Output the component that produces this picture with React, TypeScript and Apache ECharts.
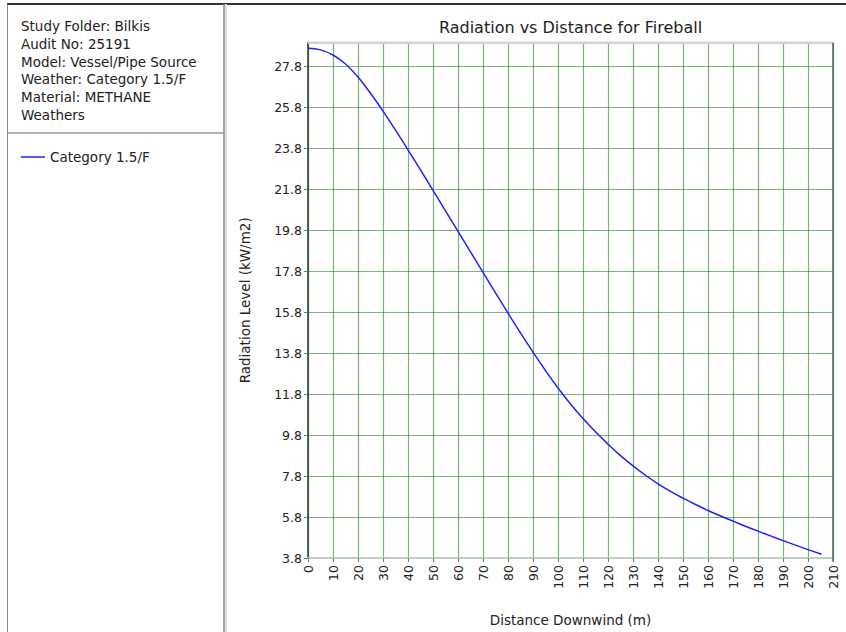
import React, { useEffect, useRef } from "react";
import * as echarts from "echarts";

const distances = [0, 5, 10, 15, 20, 25, 30, 35, 40, 45, 50, 55, 60, 65, 70, 75, 80, 85, 90, 95, 100, 105, 110, 115, 120, 125, 130, 135, 140, 145, 150, 155, 160, 165, 170, 175, 180, 185, 190, 195, 200, 205.4];
const radiation = [28.69, 28.61, 28.36, 27.92, 27.28, 26.49, 25.62, 24.69, 23.73, 22.75, 21.75, 20.75, 19.75, 18.75, 17.75, 16.75, 15.76, 14.79, 13.85, 12.95, 12.1, 11.32, 10.61, 9.96, 9.36, 8.8, 8.3, 7.84, 7.42, 7.05, 6.72, 6.41, 6.12, 5.85, 5.6, 5.35, 5.11, 4.88, 4.65, 4.43, 4.21, 3.98];
const infoLines = [
  "Study Folder: Bilkis",
  "Audit No: 25191",
  "Model: Vessel/Pipe Source",
  "Weather: Category 1.5/F",
  "Material: METHANE",
  "Weathers",
];
const seriesName = "Category 1.5/F";
const chartTitle = "Radiation vs Distance for Fireball";
const xName = "Distance Downwind (m)";
const yName = "Radiation Level (kW/m2)";

const FONT = "'DejaVu Sans', Verdana, sans-serif";

export default function App() {
  const ref = useRef<HTMLDivElement>(null);
  useEffect(() => {
    if (!ref.current) return;
    const chart = echarts.init(ref.current, undefined, { renderer: "svg" });
    const W = 846, H = 632;
    const gl = 308, gr = 833, gt = 42.7, gb = 561.7;
    const gridColor = "rgba(40,125,40,0.6)";
    const graphic: any[] = [
      { type: "rect", shape: { x: 0, y: 0, width: W, height: H }, style: { fill: "#fff" }, z: -10 },
      { type: "line", shape: { x1: 7, y1: 4, x2: W, y2: 4 }, style: { stroke: "#333", lineWidth: 2 } },
      { type: "line", shape: { x1: 7.5, y1: 4, x2: 7.5, y2: H }, style: { stroke: "#888", lineWidth: 1 } },
      { type: "line", shape: { x1: 224, y1: 4, x2: 224, y2: H }, style: { stroke: "#888", lineWidth: 1.5 } },
      { type: "line", shape: { x1: 226, y1: 4, x2: 226, y2: H }, style: { stroke: "#ddd", lineWidth: 2 } },
      { type: "line", shape: { x1: 7, y1: 133, x2: 224, y2: 133 }, style: { stroke: "#999", lineWidth: 1.5 } },
      { type: "line", shape: { x1: gl, y1: gt, x2: gr, y2: gt }, style: { stroke: "#d4d4d4", lineWidth: 2.5 }, z: 10 },
      { type: "line", shape: { x1: gr, y1: gt, x2: gr, y2: gb }, style: { stroke: "#556655", lineWidth: 1.5 }, z: 10 },
      {
        type: "text",
        x: 570.5,
        y: 27,
        style: { text: chartTitle, font: `16px ${FONT}`, fill: "#222", align: "center", verticalAlign: "middle" },
      },
      ...infoLines.map((t, i) => ({
        type: "text",
        x: 21,
        y: 26 + i * 17.8,
        style: { text: t, font: `13.5px ${FONT}`, fill: "#222", align: "left", verticalAlign: "middle" },
      })),
    ];
    chart.setOption({
      animation: false,
      backgroundColor: "#fff",
      graphic,
      legend: {
        left: 16,
        top: 145,
        itemWidth: 24,
        itemHeight: 1.5,
        itemGap: 6,
        textStyle: { fontFamily: FONT, fontSize: 13.5, color: "#222" },
        data: [{ name: seriesName, icon: "rect", itemStyle: { color: "#2020ff" } }],
      },
      grid: { left: gl, right: W - gr, top: gt, bottom: H - gb, containLabel: false },
      xAxis: {
        type: "value",
        min: 0,
        max: 210,
        interval: 10,
        name: xName,
        nameLocation: "middle",
        nameGap: 55,
        nameTextStyle: { fontFamily: FONT, fontSize: 13.5, color: "#222" },
        axisLine: { show: true, lineStyle: { color: "#bfcfbf", width: 2 } },
        axisTick: { show: true, length: 4, lineStyle: { color: "#5a8a5a" } },
        axisLabel: { rotate: 90, fontFamily: FONT, fontSize: 12.5, color: "#222", margin: 7 },
        splitLine: { show: true, lineStyle: { color: gridColor, width: 1.2 } },
      },
      yAxis: {
        type: "value",
        min: 3.8,
        max: 28.96,
        interval: 2,
        name: yName,
        nameLocation: "middle",
        nameRotate: 90,
        nameGap: 56,
        nameTextStyle: { fontFamily: FONT, fontSize: 13.5, color: "#222" },
        axisLine: { show: true, lineStyle: { color: "#1e3a1e", width: 1.5 } },
        axisTick: { show: true, length: 4, lineStyle: { color: "#5a8a5a" } },
        axisLabel: {
          fontFamily: FONT,
          fontSize: 12.5,
          color: "#222",
          margin: 6,
          showMaxLabel: false,
          formatter: (v: number) => v.toFixed(1),
        },
        splitLine: { show: true, lineStyle: { color: gridColor, width: 1.2 } },
      },
      series: [
        {
          name: seriesName,
          type: "line",
          smooth: 0.4,
          symbol: "none",
          lineStyle: { color: "#2020ff", width: 1.5 },
          itemStyle: { color: "#2020ff" },
          data: distances.map((d, i) => [d, radiation[i]]),
          z: 5,
        },
      ],
    });
    return () => chart.dispose();
  }, []);
  return <div ref={ref} style={{ width: 846, height: 632, position: "absolute", left: 0, top: 0 }} />;
}
